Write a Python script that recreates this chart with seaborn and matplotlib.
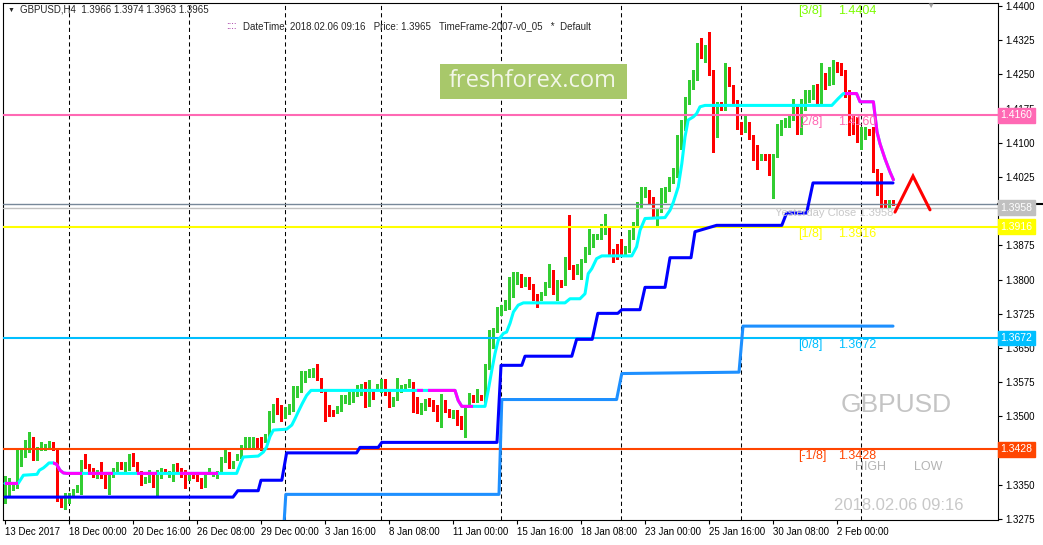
import numpy as np
import matplotlib
matplotlib.use("Agg")
import matplotlib.pyplot as plt
from matplotlib.patches import Rectangle
from matplotlib.transforms import blended_transform_factory
import seaborn as sns

# GBPUSD H4 candles, bar 0 = 13 Dec 2017 08:00
opens = [1.3327, 1.3343, 1.3342, 1.3345, 1.3406, 1.3415, 1.3429, 1.3453, 1.3407, 1.3432,
         1.3429, 1.3435, 1.3439, 1.3429, 1.3323, 1.3323, 1.3312, 1.3327, 1.3337, 1.3348,
         1.3397, 1.3393, 1.3383, 1.3367, 1.3382, 1.3371, 1.3341, 1.3375, 1.3382, 1.3398,
         1.3386, 1.3386, 1.3407, 1.3394, 1.3378, 1.3356, 1.3362, 1.3375, 1.3348, 1.3367,
         1.3382, 1.3373, 1.3377, 1.3386, 1.3382, 1.3377, 1.3363, 1.3372, 1.3371, 1.3361,
         1.3348, 1.3374, 1.3371, 1.3372, 1.3378, 1.3404, 1.3418, 1.3395, 1.3408, 1.3411,
         1.3433, 1.3433, 1.3437, 1.3446, 1.3448, 1.3446, 1.3458, 1.3499, 1.3522, 1.3522,
         1.3501, 1.3510, 1.3514, 1.3545, 1.3557, 1.3579, 1.3590, 1.3590, 1.3612, 1.3583,
         1.3557, 1.3522, 1.3514, 1.3510, 1.3514, 1.3532, 1.3530, 1.3543, 1.3548, 1.3554,
         1.3566, 1.3524, 1.3553, 1.3561, 1.3557, 1.3579, 1.3554, 1.3524, 1.3539, 1.3557,
         1.3561, 1.3568, 1.3573, 1.3539, 1.3514, 1.3522, 1.3538, 1.3534, 1.3519, 1.3495,
         1.3522, 1.3514, 1.3500, 1.3514, 1.3499, 1.3484, 1.3524, 1.3543, 1.3534, 1.3544,
         1.3535, 1.3609, 1.3652, 1.3689, 1.3726, 1.3736, 1.3740, 1.3784, 1.3795, 1.3810,
         1.3791, 1.3802, 1.3785, 1.3766, 1.3758, 1.3769, 1.3788, 1.3815, 1.3773, 1.3795,
         1.3791, 1.3846, 1.3828, 1.3815, 1.3832, 1.3843, 1.3861, 1.3875, 1.3890, 1.3894,
         1.3905, 1.3912, 1.3864, 1.3861, 1.3888, 1.3859, 1.3864, 1.3894, 1.3919, 1.3959,
         1.3983, 1.3994, 1.3978, 1.3943, 1.3952, 1.3974, 1.3997, 1.4014, 1.4029, 1.4092,
         1.4135, 1.4190, 1.4226, 1.4241, 1.4310, 1.4281, 1.4310, 1.4255, 1.4146, 1.4186,
         1.4175, 1.4259, 1.4224, 1.4190, 1.4135, 1.4128, 1.4142, 1.4106, 1.4087, 1.4065,
         1.4073, 1.4068, 1.4033, 1.4073, 1.4135, 1.4141, 1.4146, 1.4157, 1.4180, 1.4128,
         1.4177, 1.4193, 1.4201, 1.4226, 1.4190, 1.4248, 1.4230, 1.4234, 1.4270, 1.4266,
         1.4255, 1.4212, 1.4157, 1.4150, 1.4113, 1.4113, 1.4128, 1.4120, 1.4040, 1.4031,
         1.3968, 1.3962, 1.3966]
highs = [1.3369, 1.3364, 1.3356, 1.3426, 1.3426, 1.3448, 1.3465, 1.3455, 1.3432, 1.3443,
         1.3440, 1.3446, 1.3444, 1.3430, 1.3325, 1.3331, 1.3333, 1.3340, 1.3350, 1.3405,
         1.3417, 1.3395, 1.3386, 1.3382, 1.3399, 1.3378, 1.3375, 1.3386, 1.3400, 1.3400,
         1.3400, 1.3417, 1.3419, 1.3400, 1.3380, 1.3367, 1.3383, 1.3378, 1.3382, 1.3386,
         1.3384, 1.3380, 1.3395, 1.3397, 1.3386, 1.3382, 1.3376, 1.3375, 1.3373, 1.3364,
         1.3378, 1.3387, 1.3377, 1.3380, 1.3411, 1.3426, 1.3422, 1.3402, 1.3417, 1.3438,
         1.3455, 1.3455, 1.3454, 1.3453, 1.3454, 1.3461, 1.3511, 1.3527, 1.3541, 1.3524,
         1.3521, 1.3527, 1.3566, 1.3566, 1.3600, 1.3600, 1.3605, 1.3606, 1.3614, 1.3584,
         1.3561, 1.3524, 1.3515, 1.3522, 1.3546, 1.3548, 1.3554, 1.3557, 1.3568, 1.3572,
         1.3576, 1.3579, 1.3555, 1.3572, 1.3583, 1.3582, 1.3557, 1.3543, 1.3584, 1.3568,
         1.3572, 1.3581, 1.3576, 1.3543, 1.3530, 1.3539, 1.3541, 1.3537, 1.3524, 1.3550,
         1.3535, 1.3517, 1.3514, 1.3515, 1.3501, 1.3524, 1.3552, 1.3546, 1.3561, 1.3548,
         1.3616, 1.3689, 1.3693, 1.3740, 1.3744, 1.3755, 1.3806, 1.3817, 1.3817, 1.3813,
         1.3806, 1.3806, 1.3791, 1.3769, 1.3773, 1.3795, 1.3835, 1.3821, 1.3800, 1.3799,
         1.3850, 1.3941, 1.3832, 1.3835, 1.3846, 1.3872, 1.3912, 1.3901, 1.3901, 1.3923,
         1.3943, 1.3916, 1.3868, 1.3879, 1.3890, 1.3873, 1.3908, 1.3927, 1.3970, 1.4003,
         1.4003, 1.3996, 1.3981, 1.3956, 1.4000, 1.4003, 1.4025, 1.4044, 1.4117, 1.4150,
         1.4201, 1.4237, 1.4259, 1.4318, 1.4329, 1.4314, 1.4343, 1.4259, 1.4190, 1.4190,
         1.4274, 1.4266, 1.4226, 1.4193, 1.4146, 1.4160, 1.4146, 1.4117, 1.4095, 1.4076,
         1.4076, 1.4076, 1.4076, 1.4142, 1.4150, 1.4155, 1.4160, 1.4197, 1.4186, 1.4197,
         1.4215, 1.4215, 1.4226, 1.4230, 1.4275, 1.4253, 1.4266, 1.4281, 1.4277, 1.4274,
         1.4259, 1.4215, 1.4160, 1.4157, 1.4135, 1.4135, 1.4131, 1.4135, 1.4043, 1.4033,
         1.3974, 1.3974, 1.3974]
lows = [1.3309, 1.3327, 1.3338, 1.3342, 1.3391, 1.3411, 1.3422, 1.3404, 1.3404, 1.3426,
        1.3426, 1.3432, 1.3426, 1.3314, 1.3302, 1.3298, 1.3309, 1.3326, 1.3335, 1.3329,
        1.3386, 1.3378, 1.3367, 1.3366, 1.3365, 1.3342, 1.3329, 1.3367, 1.3380, 1.3385,
        1.3378, 1.3382, 1.3391, 1.3376, 1.3349, 1.3353, 1.3356, 1.3345, 1.3327, 1.3365,
        1.3375, 1.3367, 1.3358, 1.3375, 1.3367, 1.3343, 1.3360, 1.3364, 1.3358, 1.3343,
        1.3345, 1.3373, 1.3370, 1.3364, 1.3375, 1.3400, 1.3386, 1.3387, 1.3404, 1.3409,
        1.3429, 1.3429, 1.3429, 1.3433, 1.3426, 1.3444, 1.3455, 1.3488, 1.3506, 1.3490,
        1.3497, 1.3506, 1.3511, 1.3543, 1.3554, 1.3576, 1.3587, 1.3587, 1.3579, 1.3554,
        1.3490, 1.3500, 1.3500, 1.3508, 1.3511, 1.3530, 1.3528, 1.3532, 1.3545, 1.3546,
        1.3521, 1.3522, 1.3539, 1.3559, 1.3554, 1.3546, 1.3521, 1.3522, 1.3537, 1.3554,
        1.3559, 1.3565, 1.3510, 1.3508, 1.3506, 1.3514, 1.3522, 1.3511, 1.3489, 1.3477,
        1.3510, 1.3499, 1.3497, 1.3481, 1.3473, 1.3455, 1.3521, 1.3532, 1.3532, 1.3535,
        1.3532, 1.3605, 1.3649, 1.3685, 1.3722, 1.3733, 1.3736, 1.3762, 1.3791, 1.3784,
        1.3785, 1.3780, 1.3755, 1.3740, 1.3755, 1.3766, 1.3784, 1.3769, 1.3755, 1.3784,
        1.3788, 1.3824, 1.3802, 1.3813, 1.3802, 1.3839, 1.3857, 1.3872, 1.3888, 1.3890,
        1.3901, 1.3853, 1.3839, 1.3846, 1.3856, 1.3857, 1.3861, 1.3890, 1.3916, 1.3956,
        1.3981, 1.3967, 1.3938, 1.3917, 1.3948, 1.3970, 1.3995, 1.4011, 1.4025, 1.4087,
        1.4128, 1.4186, 1.4219, 1.4237, 1.4285, 1.4277, 1.4248, 1.4080, 1.4113, 1.4171,
        1.4171, 1.4224, 1.4182, 1.4131, 1.4120, 1.4124, 1.4109, 1.4062, 1.4043, 1.4062,
        1.4062, 1.4029, 1.3978, 1.4069, 1.4117, 1.4135, 1.4135, 1.4150, 1.4120, 1.4120,
        1.4171, 1.4190, 1.4197, 1.4186, 1.4186, 1.4219, 1.4226, 1.4230, 1.4255, 1.4248,
        1.4201, 1.4117, 1.4120, 1.4102, 1.4087, 1.4109, 1.4117, 1.4036, 1.3985, 1.3959,
        1.3959, 1.3956, 1.3963]
closes = [1.3367, 1.3347, 1.3349, 1.3417, 1.3420, 1.3426, 1.3455, 1.3406, 1.3426, 1.3435,
          1.3437, 1.3438, 1.3429, 1.3323, 1.3316, 1.3329, 1.3331, 1.3338, 1.3348, 1.3395,
          1.3388, 1.3380, 1.3377, 1.3378, 1.3367, 1.3344, 1.3370, 1.3384, 1.3395, 1.3386,
          1.3391, 1.3405, 1.3394, 1.3377, 1.3360, 1.3362, 1.3372, 1.3347, 1.3371, 1.3383,
          1.3377, 1.3378, 1.3388, 1.3378, 1.3375, 1.3364, 1.3371, 1.3366, 1.3360, 1.3348,
          1.3373, 1.3377, 1.3375, 1.3376, 1.3406, 1.3416, 1.3397, 1.3398, 1.3415, 1.3437,
          1.3446, 1.3448, 1.3446, 1.3438, 1.3437, 1.3459, 1.3500, 1.3522, 1.3508, 1.3508,
          1.3514, 1.3522, 1.3546, 1.3556, 1.3581, 1.3590, 1.3601, 1.3603, 1.3582, 1.3557,
          1.3522, 1.3511, 1.3508, 1.3516, 1.3543, 1.3546, 1.3544, 1.3554, 1.3565, 1.3568,
          1.3524, 1.3565, 1.3543, 1.3565, 1.3576, 1.3550, 1.3522, 1.3539, 1.3561, 1.3565,
          1.3568, 1.3572, 1.3528, 1.3511, 1.3524, 1.3535, 1.3533, 1.3514, 1.3493, 1.3522,
          1.3512, 1.3503, 1.3512, 1.3497, 1.3484, 1.3521, 1.3541, 1.3534, 1.3544, 1.3539,
          1.3610, 1.3656, 1.3689, 1.3729, 1.3740, 1.3747, 1.3788, 1.3799, 1.3810, 1.3790,
          1.3802, 1.3784, 1.3762, 1.3758, 1.3769, 1.3790, 1.3815, 1.3773, 1.3793, 1.3790,
          1.3848, 1.3828, 1.3815, 1.3832, 1.3843, 1.3864, 1.3875, 1.3892, 1.3895, 1.3905,
          1.3912, 1.3857, 1.3859, 1.3856, 1.3859, 1.3868, 1.3895, 1.3923, 1.3956, 1.3989,
          1.3992, 1.3974, 1.3941, 1.3954, 1.3978, 1.4000, 1.4018, 1.4033, 1.4092, 1.4135,
          1.4193, 1.4230, 1.4252, 1.4310, 1.4296, 1.4307, 1.4255, 1.4139, 1.4186, 1.4175,
          1.4259, 1.4226, 1.4190, 1.4150, 1.4128, 1.4153, 1.4113, 1.4076, 1.4065, 1.4073,
          1.4065, 1.4033, 1.4073, 1.4139, 1.4142, 1.4153, 1.4157, 1.4193, 1.4128, 1.4179,
          1.4193, 1.4204, 1.4223, 1.4190, 1.4248, 1.4223, 1.4259, 1.4277, 1.4259, 1.4252,
          1.4212, 1.4135, 1.4124, 1.4109, 1.4128, 1.4131, 1.4120, 1.4040, 1.3989, 1.3962,
          1.3962, 1.3970, 1.3965]

tick_bars = [0, 16, 32, 48, 64, 80, 96, 112, 128, 144, 160, 176, 192, 208]
tick_labels = ['13 Dec 2017', '18 Dec 00:00', '20 Dec 16:00', '26 Dec 08:00', '29 Dec 00:00',
               '3 Jan 16:00', '8 Jan 08:00', '11 Jan 00:00', '15 Jan 16:00', '18 Jan 08:00',
               '23 Jan 00:00', '25 Jan 16:00', '30 Jan 08:00', '2 Feb 00:00']
separator_bars = [16, 46, 70, 94, 124, 154, 184, 214]
price_ticks = [1.4400, 1.4325, 1.4250, 1.4175, 1.4100, 1.4025, 1.3950, 1.3875,
               1.3800, 1.3725, 1.3650, 1.3575, 1.3500, 1.3425, 1.3350, 1.3275]

# trailing line (cyan up / magenta down)
trend_x = [0, 3.3, 4.6, 8, 8.6, 9.6, 10.4, 11, 12, 12.9, 13.75, 14.6, 15.4, 57.9, 59, 59.6,
           63.3, 64.6, 65.4, 66.25, 67.1, 70.4, 71.7, 72.5, 73.3, 74.3, 75.4, 76.5, 112.5,
           113.3, 114.2, 120, 120.8, 121.7, 122.5, 123.3, 124.6, 125.4, 126.25, 127.1, 128.3,
           129.6, 140, 141.25, 143.75, 145, 145.8, 146.7, 147.9, 149.2, 156.7, 157.9, 158.75,
           160, 165, 166.25, 167.1, 168.3, 169.2, 170, 170.8, 172.1, 172.9, 173.75, 175,
           206.7, 208.3, 209.6, 212.9, 213.75, 217.1, 218, 218.75, 220, 221.25, 222.1]
trend_y = [1.3353, 1.3353, 1.3371, 1.3373, 1.3382, 1.3387, 1.3393, 1.3398, 1.3398, 1.3395,
           1.3382, 1.3376, 1.3375, 1.3375, 1.3400, 1.3411, 1.3413, 1.3422, 1.3433, 1.3456,
           1.3470, 1.3472, 1.3481, 1.3495, 1.3510, 1.3528, 1.3546, 1.3557, 1.3557, 1.3535,
           1.3522, 1.3522, 1.3557, 1.3601, 1.3638, 1.3667, 1.3682, 1.3685, 1.3704, 1.3729,
           1.3744, 1.3749, 1.3749, 1.3758, 1.3758, 1.3769, 1.3813, 1.3824, 1.3846, 1.3852,
           1.3852, 1.3872, 1.3908, 1.3934, 1.3936, 1.3952, 1.3970, 1.4003, 1.4054, 1.4113,
           1.4150, 1.4157, 1.4164, 1.4179, 1.4182, 1.4182, 1.4197, 1.4208, 1.4208, 1.4190,
           1.4190, 1.4124, 1.4098, 1.4065, 1.4036, 1.4019]
down_starts = [0, 12, 20.8, 33, 43.75, 102.9, 105.8, 210]
down_ends = [3.3, 19.2, 27, 38, 53.3, 104.6, 117.1, 222.5]

blue_x = [0, 57, 58.2, 63.3, 64, 69.2, 70.4, 87.9, 88.75, 93.3, 94.2, 123, 124, 129.2, 130,
          141.7, 142.9, 146.8, 148.2, 153.2, 154.2, 158.75, 160, 165, 166.25, 171.5, 172.5,
          177.9, 194.2, 195.4, 200.4, 202, 222]
blue_y = [1.3323, 1.3323, 1.3337, 1.3337, 1.3360, 1.3360, 1.3420, 1.3420, 1.3432, 1.3432,
          1.3443, 1.3443, 1.3612, 1.3612, 1.3632, 1.3632, 1.3669, 1.3669, 1.3726, 1.3726,
          1.3734, 1.3734, 1.3783, 1.3783, 1.3848, 1.3848, 1.3905, 1.3919, 1.3919, 1.3946,
          1.3946, 1.4012, 1.4012]
dodger_x = [69.3, 70.2, 123.5, 124.2, 152.9, 154.2, 183.5, 184.5, 222]
dodger_y = [1.3200, 1.3329, 1.3329, 1.3537, 1.3537, 1.3594, 1.3597, 1.3698, 1.3698]

levels = [1.4404, 1.4160, 1.3916, 1.3672, 1.3428]
level_names = ['[3/8]', '[2/8]', '[1/8]', '[0/8]', '[-1/8]']
level_colors = ['#7CFC00', '#FF69B4', '#FFFF00', '#00BFFF', '#FF4500']
yesterday_close = 1.3958
bid = 1.3965
signal_x = [222.5, 227, 231.25]
signal_y = [1.3948, 1.4027, 1.3953]

sns.set_style('white')
plt.rcParams['font.family'] = ['Liberation Sans', 'DejaVu Sans']

W, H = 1043, 545
fig = plt.figure(figsize=(W / 100, H / 100), dpi=100)
fig.patch.set_facecolor('white')
ax = fig.add_axes([3 / W, 25 / H, 995 / W, 517 / H])
ymin, ymax = 1.32728, 1.44066
ax.set_xlim(-0.5, 248.25)
ax.set_ylim(ymin, ymax)

# period separators
ax.vlines(separator_bars, ymin, ymax, colors='black', linestyles=(0, (4, 3)), lw=0.75, zorder=1)

# candles
o, h, l, c = map(np.array, (opens, highs, lows, closes))
bars = np.arange(len(o))
cols = np.where(c >= o, '#32CD32', '#FF0000')
ax.vlines(bars, l, h, colors=cols, lw=0.8, zorder=2, antialiased=False)
ax.bar(bars, np.maximum(np.abs(c - o), 0.00018), bottom=np.minimum(o, c), width=0.72,
       color=cols, linewidth=0, zorder=3, antialiased=False)

# Murrey levels (top level sits on the frame, only its label shows)
for lv, nm, col in zip(levels, level_names, level_colors):
    if lv < 1.44:
        ax.axhline(lv, color=col, lw=1.5, zorder=4)
    ax.text(198.25, lv - 0.00018, nm, color=col, fontsize=9, va='top', ha='left', zorder=6)
    ax.text(208.25, lv - 0.00018, f'{lv:.4f}', color=col, fontsize=9, va='top', ha='left', zorder=6)

ax.axhline(bid, color='#778899', lw=1, zorder=4)
ax.axhline(yesterday_close, color='#C0C0C0', lw=1, zorder=4)
ax.text(192.5, yesterday_close - 0.00012, 'Yesterday Close 1.3958', color='#C8C8C8',
        fontsize=8, va='top', ha='left', zorder=6)

# indicator lines
sns.lineplot(x=dodger_x, y=dodger_y, color='#1E90FF', lw=2.2, ax=ax, estimator=None, sort=False)
sns.lineplot(x=blue_x, y=blue_y, color='#0000FF', lw=2.2, ax=ax, estimator=None, sort=False)
sns.lineplot(x=trend_x, y=trend_y, color='#00FFFF', lw=2.2, ax=ax, estimator=None, sort=False)
for a, b in zip(down_starts, down_ends):
    sns.lineplot(x=trend_x, y=trend_y, color='#FF00FF', lw=2.2, ax=ax, estimator=None, sort=False)
    clip = Rectangle((a, ymin), b - a, ymax - ymin, transform=ax.transData)
    ax.lines[-1].set_clip_path(clip)
for ln in ax.lines:
    ln.set_zorder(5)

ax.plot(signal_x, signal_y, color='#FF0000', lw=2.2, zorder=6, solid_joinstyle='miter')

# axes styling
for sp in ax.spines.values():
    sp.set_color('black')
    sp.set_linewidth(0.8)
ax.yaxis.tick_right()
ax.set_yticks(price_ticks)
ax.set_yticklabels([f'{v:.4f}' for v in price_ticks])
ax.set_xticks(tick_bars)
ax.set_xticklabels(tick_labels, ha='left')
ax.tick_params(axis='both', direction='out', length=3, width=0.8, color='black',
               labelsize=7, pad=2, labelcolor='black')
ax.tick_params(axis='y', left=False, right=True)
ax.tick_params(axis='x', bottom=True)
ax.set_xlabel('')
ax.set_ylabel('')
ax.grid(False)

# price boxes on the price scale
tr = blended_transform_factory(ax.transAxes, ax.transData)
ax.plot([1.0, 1.05], [bid, bid], transform=tr, color='black', lw=1.5, clip_on=False, zorder=7)
box_vals = [1.4160, yesterday_close, 1.3916, 1.3672, 1.3428]
box_cols = ['#FF69B4', '#C0C0C0', '#FFFF00', '#00BFFF', '#FF4500']
for v, col in zip(box_vals, box_cols):
    ax.text(1.0025, v, f'{v:.4f}', transform=tr, color='white', fontsize=7.5, va='center',
            ha='left', zorder=8, clip_on=False,
            bbox=dict(boxstyle='square,pad=0.22', fc=col, ec=col))

# header texts
fig.text(8 / W, 1 - 10 / H, '\u25BC', fontsize=5, va='center', ha='left')
fig.text(20 / W, 1 - 10 / H, 'GBPUSD,H4  1.3966 1.3974 1.3963 1.3965', fontsize=7,
         va='center', ha='left')
fig.text(226 / W, 1 - 26 / H, '::::', fontsize=7, va='center', ha='left', color='#8B008B')
fig.text(243 / W, 1 - 26 / H,
         'DateTime: 2018.02.06 09:16   Price: 1.3965   TimeFrame-2007-v0_05   *  Default',
         fontsize=7, va='center', ha='left')

# watermark box
fig.patches.append(Rectangle((440 / W, 1 - 99 / H), 187 / W, 35 / H, transform=fig.transFigure,
                             fc='#A8C86A', ec='none', zorder=5))
fig.text(533 / W, 1 - 81 / H, 'freshforex.com', fontsize=17, color='#F2F6E8', ha='center',
         va='center', family=['Open Sans', 'DejaVu Sans'], zorder=6)

fig.text(896 / W, 1 - 405 / H, 'GBPUSD', fontsize=19, color='#C4C4C4', ha='center', va='center')
fig.text(870 / W, 1 - 467 / H, 'HIGH', fontsize=9, color='#B4B4B4', ha='center', va='center')
fig.text(928 / W, 1 - 467 / H, 'LOW', fontsize=9, color='#B4B4B4', ha='center', va='center')
fig.text(899 / W, 1 - 505 / H, '2018.02.06 09:16', fontsize=12, color='#C8C8C8',
         ha='center', va='center')
fig.text(930 / W, 1 - 6 / H, '\u25BC', fontsize=6, color='#A0A0A0', ha='center', va='center')

fig.savefig('out.png', dpi=100, facecolor='white')
